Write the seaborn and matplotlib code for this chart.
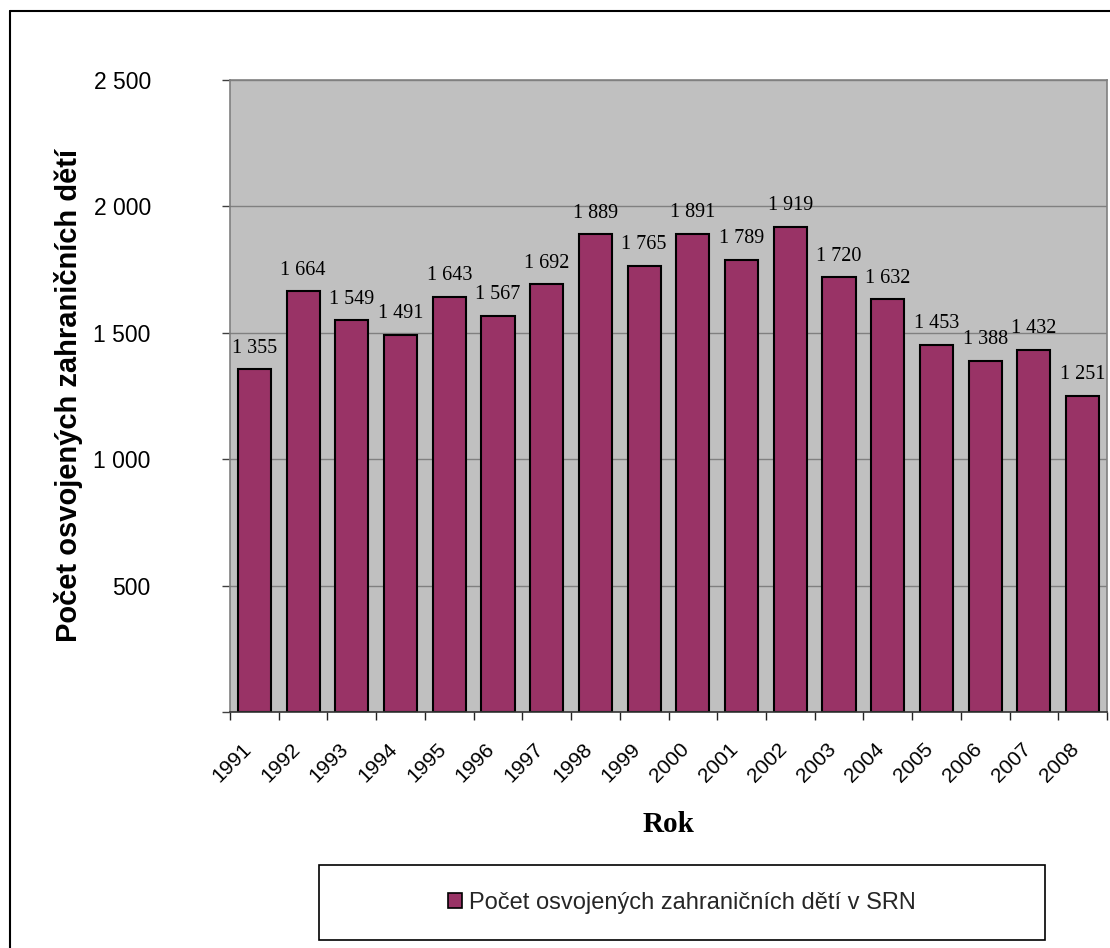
import matplotlib
matplotlib.use("Agg")
import matplotlib.pyplot as plt
import seaborn as sns
import pandas as pd
from matplotlib.patches import Rectangle, Patch
from matplotlib.lines import Line2D
from matplotlib.transforms import ScaledTranslation

# ---- data ----
years = ["1991", "1992", "1993", "1994", "1995", "1996", "1997", "1998", "1999",
         "2000", "2001", "2002", "2003", "2004", "2005", "2006", "2007", "2008"]
values = [1355, 1664, 1549, 1491, 1643, 1567, 1692, 1889, 1765,
          1891, 1789, 1919, 1720, 1632, 1453, 1388, 1432, 1251]
ytick_values = [0, 500, 1000, 1500, 2000, 2500]
ytick_labels = ["", "500", "1 000", "1 500", "2 000", "2 500"]
series_name = "Počet osvojených zahraničních dětí v SRN"
y_title = "Počet osvojených zahraničních dětí"
x_title = "Rok"

BAR = "#993366"

sns.set_theme(style="white")
plt.rcParams["font.family"] = ["Liberation Sans", "DejaVu Sans"]

W, H = 1110, 948
fig = plt.figure(figsize=(W / 100, H / 100), dpi=100)
fig.patch.set_facecolor("white")
ax = fig.add_axes([230 / W, (H - 712) / H, 877 / W, 632 / H])

df = pd.DataFrame({"Rok": years, "Pocet": values})
sns.barplot(data=df, x="Rok", y="Pocet", color=BAR, saturation=1,
            edgecolor="black", linewidth=1.5, width=0.68, ax=ax)

ax.set_facecolor("#C0C0C0")
ax.set_xlim(-0.5, len(years) - 0.5)
ax.set_ylim(0, 2500)
ax.set_yticks(ytick_values)
ax.set_yticklabels(ytick_labels)
ax.yaxis.grid(True, color="#808080", lw=1)
ax.set_axisbelow(True)

for s in ["top", "right", "left"]:
    ax.spines[s].set_color("#808080")
    ax.spines[s].set_linewidth(1.2)
ax.spines["bottom"].set_color("#333333")
ax.spines["bottom"].set_linewidth(1.2)

ax.tick_params(axis="y", left=True, length=6, width=1, color="#404040",
               pad=51, labelsize=16.5, labelcolor="black")
ax.tick_params(axis="x", which="major", bottom=True, length=0, pad=20,
               labelsize=15, labelcolor="black")
ax.set_xticks([i - 0.5 for i in range(len(years) + 1)], minor=True)
ax.tick_params(axis="x", which="minor", bottom=True, length=6, width=1,
               color="#222222")

off = ScaledTranslation(-13 / 100, 0, fig.dpi_scale_trans)
for lab in ax.get_xticklabels():
    lab.set_rotation(45)
    lab.set_ha("right")
    lab.set_va("top")
    lab.set_rotation_mode("anchor")
    lab.set_transform(lab.get_transform() + off)

for i, v in enumerate(values):
    ax.annotate(f"{v:,}".replace(",", " "), (i, v), xytext=(0, 12),
                textcoords="offset points", ha="center", va="baseline",
                fontfamily="Liberation Serif", fontsize=14.5, color="black")

ax.set_xlabel(x_title, fontfamily="Liberation Serif", fontweight="bold",
              fontsize=21, color="black")
ax.xaxis.set_label_coords(0.5, -(832 - 712) / 632)
ax.xaxis.label.set_va("baseline")

ax.set_ylabel(y_title, fontsize=21, fontweight="bold", color="black")
ax.yaxis.set_label_coords((69 - 230) / 877, 0.5)
ax.yaxis.label.set_va("center")

# legend box
fig.add_artist(Rectangle((319 / W, 1 - 940 / H), 726 / W, 75 / H,
                         transform=fig.transFigure, facecolor="white",
                         edgecolor="black", lw=1.2))
handle = Patch(facecolor=BAR, edgecolor="black", lw=1.2)
fig.legend([handle], [series_name], loc="center",
           bbox_to_anchor=(682 / W, 1 - 902.5 / H), frameon=False,
           fontsize=17, handlelength=0.6, handleheight=0.6,
           handletextpad=0.3)

# outer chart border (partly outside the image)
fig.add_artist(Line2D([10 / W, 10 / W], [0, 1 - 11 / H], color="black",
                      lw=1.5, transform=fig.transFigure))
fig.add_artist(Line2D([10 / W, 1], [1 - 11 / H, 1 - 11 / H], color="black",
                      lw=1.5, transform=fig.transFigure))

fig.savefig("out.png", dpi=100)
